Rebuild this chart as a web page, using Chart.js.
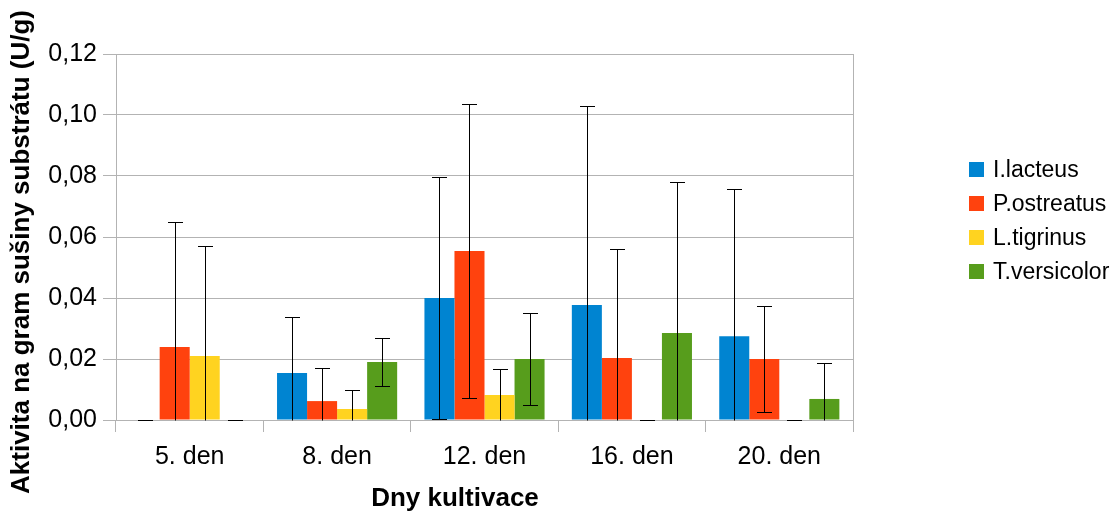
<!DOCTYPE html>
<html>
<head>
<meta charset="utf-8">
<script src="https://cdn.jsdelivr.net/npm/chart.js@4/dist/chart.umd.min.js"></script>
<style>
  html, body { margin: 0; padding: 0; background: #fff; }
  #wrap { position: relative; width: 1120px; height: 513px; }
  #legend {
    position: absolute; left: 969px; top: 152px;
    font-family: "Liberation Sans", Arial, sans-serif; font-size: 23px; color: #000;
  }
  #legend .item { display: flex; align-items: center; height: 34px; white-space: nowrap; }
  #legend .sw { width: 15px; height: 15px; margin-right: 9px; flex: none; }
</style>
</head>
<body>
<div id="wrap"><canvas id="c"></canvas><div id="legend"></div></div>
<script>
// Enzyme activity per gram of dry substrate, mean and standard deviation
const categories = ['5. den', '8. den', '12. den', '16. den', '20. den'];

const seriesNames  = ['I.lacteus', 'P.ostreatus', 'L.tigrinus', 'T.versicolor'];
const seriesColors = ['#0084d1', '#ff420e', '#ffd320', '#579d1c'];

const lacteus       = [0.0000, 0.0154, 0.0400, 0.0377, 0.0275];
const lacteusErr    = [0.0000, 0.0185, 0.0396, 0.0654, 0.0482];
const ostreatus     = [0.0239, 0.0062, 0.0554, 0.0203, 0.0200];
const ostreatusErr  = [0.0411, 0.0110, 0.0482, 0.0357, 0.0174];
const tigrinus      = [0.0210, 0.0036, 0.0082, 0.0000, 0.0000];
const tigrinusErr   = [0.0360, 0.0063, 0.0084, 0.0000, 0.0000];
const versicolor    = [0.0000, 0.0190, 0.0200, 0.0285, 0.0069];
const versicolorErr = [0.0000, 0.0080, 0.0152, 0.0496, 0.0118];

const yTickLabels = ['0,00', '0,02', '0,04', '0,06', '0,08', '0,10', '0,12'];
const xTitle = 'Dny kultivace';
const yTitle = 'Aktivita na gram sušiny substrátu (U/g)';

const seriesValues = [lacteus, ostreatus, tigrinus, versicolor];
const seriesErrors = [lacteusErr, ostreatusErr, tigrinusErr, versicolorErr];

const FONT = '"Liberation Sans", Arial, sans-serif';
const GRID = '#b3b3b3';

// Standard deviation whiskers, clipped at the zero line
const errorBars = {
  id: 'errorBars',
  afterDatasetsDraw(chart) {
    const { ctx } = chart;
    const y = chart.scales.y;
    const capHalf = 7.5;
    ctx.save();
    ctx.strokeStyle = '#000';
    ctx.lineWidth = 1;
    chart.data.datasets.forEach((ds, di) => {
      const meta = chart.getDatasetMeta(di);
      const errs = seriesErrors[di];
      meta.data.forEach((bar, i) => {
        const v = ds.data[i], e = errs[i];
        const x = Math.round(bar.x) + 0.5;
        const hi = v + e, lo = v - e;
        const yHi = Math.round(y.getPixelForValue(hi)) + 0.5;
        const yLo = Math.round(y.getPixelForValue(Math.max(lo, 0))) + 0.5;
        ctx.beginPath();
        ctx.moveTo(x, yHi); ctx.lineTo(x, yLo);
        ctx.moveTo(x - capHalf, yHi); ctx.lineTo(x + capHalf, yHi);
        if (lo >= 0) { ctx.moveTo(x - capHalf, yLo); ctx.lineTo(x + capHalf, yLo); }
        ctx.stroke();
      });
    });
    ctx.restore();
  }
};

// Right edge of the plot wall
const plotFrame = {
  id: 'plotFrame',
  beforeDatasetsDraw(chart) {
    const { ctx, chartArea: a } = chart;
    ctx.save();
    ctx.strokeStyle = GRID;
    ctx.lineWidth = 1;
    const x = Math.round(a.right) + 0.5;
    ctx.beginPath();
    ctx.moveTo(x, a.top); ctx.lineTo(x, a.bottom + 12);
    ctx.stroke();
    ctx.restore();
  }
};

// Axis titles
const axisTitles = {
  id: 'axisTitles',
  afterDraw(chart) {
    const { ctx } = chart;
    ctx.save();
    ctx.fillStyle = '#000';
    ctx.font = 'bold 26px ' + FONT;
    ctx.textAlign = 'center';
    ctx.textBaseline = 'middle';
    ctx.fillText(xTitle, 455, 499);
    ctx.translate(22, 252);
    ctx.rotate(-Math.PI / 2);
    ctx.fillText(yTitle, 0, 0);
    ctx.restore();
  }
};

// Legend built from the chart's datasets
const htmlLegend = {
  id: 'htmlLegend',
  afterUpdate(chart) {
    const box = document.getElementById('legend');
    box.innerHTML = '';
    chart.data.datasets.forEach(ds => {
      const item = document.createElement('div');
      item.className = 'item';
      const sw = document.createElement('span');
      sw.className = 'sw';
      sw.style.background = ds.backgroundColor;
      const label = document.createElement('span');
      label.textContent = ds.label;
      item.appendChild(sw);
      item.appendChild(label);
      box.appendChild(item);
    });
  }
};

new Chart(document.getElementById('c'), {
  type: 'bar',
  data: {
    labels: categories,
    datasets: seriesNames.map((name, k) => ({
      label: name,
      data: seriesValues[k],
      backgroundColor: seriesColors[k],
      borderWidth: 0,
      categoryPercentage: 0.815,
      barPercentage: 1.0
    }))
  },
  options: {
    responsive: true,
    maintainAspectRatio: false,
    animation: false,
    layout: { padding: { left: 0, top: 54, right: 267, bottom: 0 } },
    plugins: {
      legend: { display: false },
      tooltip: { enabled: false }
    },
    scales: {
      x: {
        offset: true,
        grid: {
          offset: true,
          drawOnChartArea: false,
          drawTicks: true,
          tickLength: 12,
          tickColor: GRID,
          color: GRID
        },
        border: { display: true, color: GRID, width: 1 },
        ticks: {
          color: '#000',
          font: { family: FONT, size: 25 },
          padding: 10,
          maxRotation: 0
        },
        afterFit(scale) { scale.height = 93; }
      },
      y: {
        min: 0,
        max: 0.12,
        grid: {
          color: GRID,
          tickLength: 13,
          tickColor: GRID,
          drawTicks: true
        },
        border: { display: true, color: GRID, width: 1 },
        ticks: {
          stepSize: 0.02,
          color: '#000',
          font: { family: FONT, size: 25 },
          padding: 6,
          callback: (v, i) => yTickLabels[i]
        },
        afterFit(scale) { scale.width = 116; }
      }
    }
  },
  plugins: [plotFrame, errorBars, axisTitles, htmlLegend]
});
</script>
</body>
</html>
